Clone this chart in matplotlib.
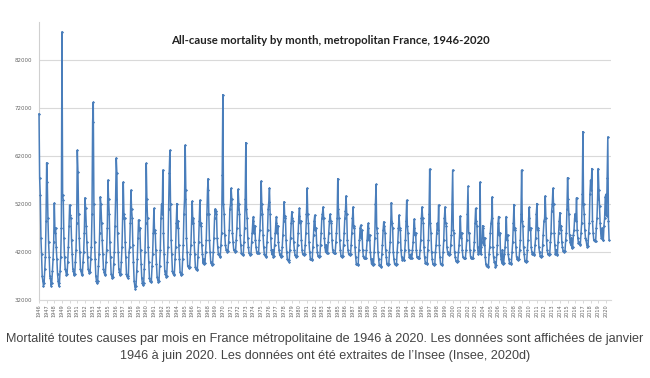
import numpy as np
import matplotlib
matplotlib.use("Agg")
import matplotlib.pyplot as plt

# monthly deaths (thousands), Jan..Dec
deaths_1940s = [
    [70.8, 57.4, 53.9, 45.0, 41.5, 37.0, 36.0, 35.0, 35.5, 38.5, 41.0, 48.5],  # 1946
    [60.6, 56.6, 49.0, 44.0, 41.0, 37.0, 36.5, 35.0, 35.5, 38.0, 40.5, 44.0],  # 1947
    [52.2, 46.0, 47.0, 43.0, 40.5, 37.5, 36.0, 35.0, 35.5, 38.0, 41.0, 47.0],  # 1948
    [87.9, 53.9, 52.8, 45.0, 41.0, 38.5, 38.0, 37.2, 37.5, 40.0, 43.0, 47.5],  # 1949
]
deaths_1950s = [
    [51.8, 49.7, 49.0, 44.5, 41.5, 38.5, 38.0, 37.2, 37.5, 40.0, 42.5, 48.0],
    [63.2, 58.7, 50.0, 45.0, 42.0, 38.5, 38.0, 37.2, 37.5, 40.0, 42.0, 46.0],
    [53.3, 51.2, 47.5, 44.0, 41.0, 38.5, 38.0, 37.6, 37.8, 40.5, 43.0, 50.0],
    [69.1, 73.2, 52.0, 44.0, 40.5, 37.0, 36.0, 35.5, 36.0, 39.0, 41.5, 46.0],
    [53.5, 52.0, 48.0, 44.5, 41.5, 38.5, 37.8, 37.2, 37.5, 40.0, 42.5, 47.0],
    [57.0, 53.0, 50.0, 44.0, 41.0, 37.5, 37.0, 36.5, 36.8, 39.5, 42.0, 47.5],
    [53.0, 61.6, 58.4, 46.0, 42.0, 38.5, 37.8, 37.2, 37.5, 40.0, 43.0, 49.0],
    [56.6, 50.0, 49.0, 44.0, 41.0, 37.5, 37.0, 36.5, 37.0, 42.0, 43.0, 48.0],
    [54.9, 51.0, 49.0, 43.5, 40.0, 36.0, 35.0, 34.4, 35.0, 38.0, 40.5, 45.0],
    [48.7, 46.5, 47.0, 42.5, 39.5, 36.5, 35.5, 35.1, 35.5, 38.5, 42.0, 48.0],
]
deaths_1960s = [
    [60.5, 53.0, 49.0, 43.0, 40.0, 36.5, 36.0, 35.8, 36.0, 39.0, 41.5, 46.0],
    [51.1, 46.0, 46.5, 42.5, 39.5, 36.8, 36.2, 35.8, 36.0, 39.0, 42.5, 49.0],
    [52.0, 50.0, 59.1, 46.0, 41.5, 38.0, 37.5, 36.9, 37.0, 40.0, 43.0, 51.0],
    [58.5, 63.2, 52.0, 44.5, 41.5, 38.0, 37.6, 37.2, 37.5, 40.5, 43.0, 48.0],
    [52.1, 47.0, 48.5, 43.5, 40.5, 37.8, 37.5, 37.2, 37.5, 40.5, 43.5, 50.0],
    [53.0, 64.3, 55.0, 45.0, 42.0, 39.0, 39.0, 38.6, 38.8, 41.5, 43.5, 48.0],
    [52.6, 48.0, 49.0, 44.0, 41.5, 38.8, 38.5, 38.2, 38.5, 41.0, 44.0, 48.5],
    [52.8, 47.5, 48.0, 43.5, 41.5, 39.8, 40.5, 39.5, 39.8, 42.0, 44.5, 50.0],
    [55.0, 57.3, 50.0, 44.5, 42.0, 40.0, 39.8, 39.3, 39.5, 42.0, 45.0, 49.0],
    [51.0, 50.0, 50.5, 45.0, 43.0, 41.5, 41.5, 41.0, 41.2, 43.5, 46.0, 58.0],
]
deaths_1970s = [
    [74.8, 52.0, 50.0, 45.5, 43.5, 42.5, 42.5, 42.1, 42.3, 44.0, 46.5, 51.0],
    [52.0, 55.3, 53.0, 46.0, 44.0, 42.5, 42.5, 42.1, 42.3, 44.5, 47.0, 51.0],
    [55.1, 52.0, 50.0, 45.5, 43.5, 41.8, 41.6, 41.4, 41.6, 44.0, 47.0, 53.0],
    [64.8, 51.0, 49.0, 45.0, 43.0, 41.8, 41.6, 41.4, 41.6, 44.0, 46.0, 48.5],
    [49.4, 46.0, 47.5, 44.5, 43.0, 42.0, 41.8, 41.7, 41.9, 44.5, 46.5, 50.0],
    [56.8, 52.0, 50.0, 45.5, 43.0, 41.5, 41.3, 41.0, 41.2, 44.0, 46.5, 51.0],
    [52.5, 55.3, 50.0, 45.0, 42.5, 41.5, 42.5, 41.0, 41.2, 43.5, 46.0, 48.0],
    [49.4, 46.0, 47.5, 44.0, 42.5, 41.5, 41.3, 41.0, 41.2, 43.0, 45.5, 48.5],
    [52.5, 49.0, 49.5, 44.5, 42.0, 40.5, 40.3, 40.0, 40.3, 42.5, 45.0, 48.0],
    [50.4, 49.0, 48.5, 44.0, 42.5, 41.3, 41.2, 41.0, 41.2, 43.5, 46.0, 49.5],
]
deaths_1980s = [
    [51.1, 48.0, 48.5, 44.5, 42.5, 41.6, 41.5, 41.4, 41.5, 43.5, 46.0, 50.0],
    [55.3, 50.0, 48.0, 44.0, 42.0, 40.6, 40.5, 40.3, 40.5, 43.0, 45.5, 48.5],
    [49.7, 46.5, 47.0, 43.5, 42.0, 41.2, 41.2, 41.0, 41.2, 43.5, 46.0, 49.0],
    [50.0, 51.4, 49.0, 45.0, 43.0, 42.0, 43.5, 41.7, 41.9, 44.0, 46.0, 48.5],
    [49.9, 48.5, 48.0, 44.5, 42.5, 42.0, 41.9, 41.7, 41.9, 44.0, 46.0, 49.0],
    [57.3, 51.0, 49.0, 44.5, 42.5, 41.2, 41.2, 41.0, 41.2, 43.5, 46.0, 49.0],
    [50.5, 53.7, 50.0, 44.5, 42.5, 41.6, 41.5, 41.4, 41.5, 43.5, 46.0, 49.0],
    [51.4, 47.0, 47.5, 43.0, 41.0, 39.6, 39.5, 39.3, 39.5, 42.5, 44.5, 47.0],
    [47.6, 45.0, 46.5, 42.5, 41.2, 40.8, 40.8, 40.7, 40.8, 42.5, 44.5, 47.0],
    [48.0, 44.5, 45.5, 42.0, 40.5, 39.5, 40.5, 39.2, 39.5, 42.0, 45.0, 52.0],
]
deaths_1990s = [
    [56.1, 47.0, 46.0, 42.0, 40.5, 39.2, 39.3, 38.9, 39.0, 41.5, 43.5, 46.5],
    [48.3, 47.5, 46.0, 42.5, 41.0, 39.5, 39.6, 39.3, 39.5, 42.0, 44.0, 48.5],
    [52.3, 48.0, 47.0, 42.0, 40.5, 39.5, 39.6, 39.3, 39.5, 42.0, 44.0, 47.0],
    [49.7, 47.0, 46.5, 42.5, 41.0, 40.4, 40.5, 40.3, 40.4, 42.5, 44.5, 48.5],
    [52.8, 47.5, 46.0, 42.5, 41.0, 40.8, 41.5, 40.7, 40.8, 42.5, 44.0, 47.0],
    [48.9, 45.5, 46.0, 42.5, 41.0, 40.8, 41.0, 40.7, 40.8, 42.5, 44.5, 49.0],
    [51.4, 49.0, 48.0, 43.0, 41.0, 39.8, 39.8, 39.6, 39.8, 42.5, 44.5, 50.0],
    [59.3, 48.0, 46.0, 42.0, 40.5, 39.5, 39.5, 39.3, 39.5, 42.0, 43.5, 46.0],
    [48.0, 46.5, 51.8, 43.5, 41.0, 39.5, 39.5, 39.3, 39.5, 42.0, 44.5, 49.0],
    [51.4, 48.0, 47.5, 43.0, 42.0, 41.5, 41.6, 41.4, 41.5, 43.5, 45.5, 52.0],
]
deaths_2000s = [
    [59.1, 46.5, 46.0, 42.0, 41.0, 40.2, 40.1, 40.0, 40.2, 42.0, 43.5, 46.0],
    [49.5, 45.0, 46.0, 42.5, 41.0, 40.8, 40.8, 40.7, 40.8, 42.5, 44.5, 50.0],
    [55.7, 46.0, 46.0, 42.5, 41.0, 40.8, 40.8, 40.7, 40.8, 42.5, 44.0, 48.0],
    [51.1, 48.5, 47.5, 43.0, 41.5, 42.0, 42.5, 56.6, 41.5, 43.0, 44.0, 47.5],
    [47.0, 43.5, 45.0, 41.0, 39.5, 39.0, 39.0, 38.9, 39.0, 41.5, 43.0, 46.0],
    [48.0, 49.0, 53.5, 43.0, 41.0, 40.0, 40.0, 38.9, 39.2, 41.5, 43.5, 48.0],
    [49.4, 45.5, 46.0, 41.5, 40.5, 39.8, 42.5, 39.6, 39.8, 41.5, 43.0, 45.5],
    [49.4, 44.5, 45.5, 41.5, 40.5, 39.8, 39.8, 39.6, 39.8, 42.0, 44.0, 48.0],
    [51.9, 46.5, 47.0, 43.0, 41.0, 40.5, 40.5, 40.3, 40.5, 42.5, 44.5, 50.0],
    [59.1, 48.5, 47.5, 43.0, 41.5, 40.2, 40.2, 40.0, 40.2, 42.5, 44.5, 49.0],
]
deaths_2010s = [
    [51.3, 46.5, 47.0, 43.0, 42.0, 41.5, 41.8, 41.4, 41.6, 43.5, 45.0, 50.0],
    [52.1, 46.5, 47.0, 43.0, 42.0, 41.2, 41.2, 41.0, 41.2, 43.5, 45.5, 48.5],
    [49.0, 53.7, 49.0, 44.5, 42.5, 41.6, 41.6, 41.4, 41.6, 44.0, 46.0, 50.5],
    [52.0, 55.3, 52.0, 46.0, 43.5, 41.6, 42.5, 41.4, 41.6, 44.0, 46.0, 48.5],
    [50.2, 46.5, 47.5, 44.0, 43.0, 42.2, 42.3, 42.1, 42.3, 44.5, 46.0, 51.0],
    [57.5, 53.0, 50.0, 45.5, 44.0, 43.5, 45.0, 42.8, 43.0, 45.5, 46.5, 49.0],
    [50.0, 48.5, 53.3, 46.5, 45.0, 43.8, 44.0, 43.5, 43.7, 46.0, 48.0, 54.0],
    [67.1, 52.0, 50.0, 46.5, 45.0, 44.5, 43.5, 43.1, 43.3, 46.0, 48.0, 54.0],
    [57.0, 55.0, 59.4, 48.5, 46.0, 44.5, 44.5, 44.2, 44.3, 47.0, 49.0, 53.0],
    [59.4, 55.0, 51.5, 48.0, 46.0, 45.0, 47.0, 44.5, 44.6, 47.5, 49.0, 53.5],
]
deaths_2020 = [54.0, 49.5, 57.5, 66.0, 48.5, 44.5]  # Jan..Jun 2020

years = list(range(1946, 2021))
y_ticks = [32000, 42000, 52000, 62000, 72000, 82000]

title = "All-cause mortality by month, metropolitan France, 1946-2020"
caption = ("Mortalité toutes causes par mois en France métropolitaine de 1946 à 2020. "
           "Les données sont affichées de janvier\n1946 à juin 2020. "
           "Les données ont été extraites de l\u2019Insee (Insee, 2020d)")

rows = deaths_1940s + deaths_1950s + deaths_1960s + deaths_1970s + deaths_1980s + deaths_1990s + deaths_2000s + deaths_2010s
monthly = [v for r in rows for v in r] + deaths_2020
deaths = np.array(monthly) * 1000
months = np.arange(len(deaths))

fig = plt.figure(figsize=(6.5, 3.78), dpi=100)
ax = fig.add_axes([0.06, 0.2063, 0.88, 0.736])

ax.plot(months, deaths, color="#4a7ebb", lw=1.1, marker="D", ms=1.6,
        markeredgewidth=0, zorder=3, clip_on=False)

ax.set_ylim(32000, 90000)
ax.set_xlim(0, 896)
ax.set_yticks(y_ticks)
ax.set_yticklabels([str(v) for v in y_ticks], fontsize=4, color="#666666")
ax.set_xticks(np.arange(len(years)) * 12)
ax.set_xticklabels([str(y) for y in years], rotation=90, fontsize=3.6, color="#666666")
ax.tick_params(axis="y", length=0, pad=5)
ax.tick_params(axis="x", length=2, width=0.4, color="#bbbbbb", pad=1)

ax.grid(axis="y", color="#d9d9d9", lw=0.8)
ax.set_axisbelow(True)
for s in ["top", "right"]:
    ax.spines[s].set_visible(False)
ax.spines["left"].set_color("#d0d0d0")
ax.spines["bottom"].set_color("#d9d9d9")

fig.text(0.508, 0.892, title, ha="center", va="center", fontsize=8.2,
         fontweight="bold", family="Lato", color="#222222")
fig.text(0.5, 0.081, caption, ha="center", va="center", fontsize=9.1,
         family="Liberation Sans", color="#444444", linespacing=1.55)

fig.savefig("out.png", dpi=100)
